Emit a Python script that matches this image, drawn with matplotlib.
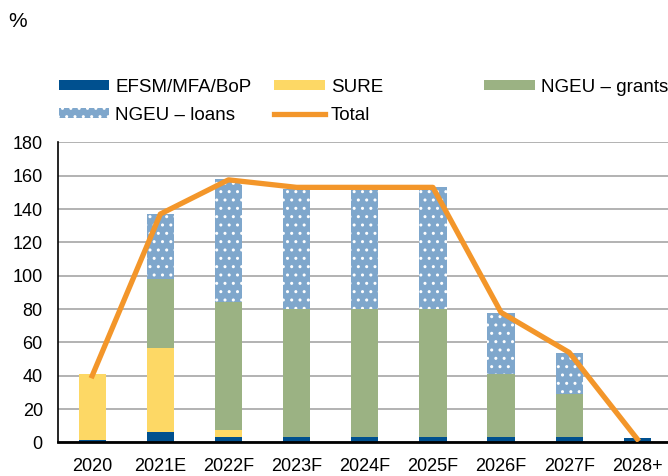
import numpy as np
import matplotlib.pyplot as plt

plt.rcParams['font.family'] = ['Liberation Sans', 'DejaVu Sans']
plt.rcParams['font.size'] = 13
plt.rcParams['hatch.linewidth'] = 1.0

years = ['2020', '2021E', '2022F', '2023F', '2024F', '2025F', '2026F', '2027F', '2028+']
efsm = [1.2, 6.5, 3, 3, 3, 3, 3, 3, 2.7]
sure = [39.7, 50.3, 4.5, 0, 0, 0, 0, 0, 0]
grants = [0, 41.2, 77, 76.8, 76.8, 76.8, 38.3, 25.9, 0]
loans = [0, 39, 73.4, 72, 71.6, 73.2, 36.5, 24.9, 0]
total = [40, 137, 157.5, 153, 153, 153, 78, 54, 2]

fig, ax = plt.subplots(figsize=(6.68, 4.76), dpi=100)
fig.subplots_adjust(left=0.087, right=1.0, top=0.701, bottom=0.0704)

x = np.arange(len(years))
w = 0.4
b1 = np.array(efsm)
b2 = b1 + np.array(sure)
b3 = b2 + np.array(grants)

h_efsm = ax.bar(x, efsm, w, color='#00508F', zorder=2)
h_sure = ax.bar(x, sure, w, bottom=b1, color='#FDD865', zorder=2)
h_grants = ax.bar(x, grants, w, bottom=b2, color='#9BB283', zorder=2)
h_loans = ax.bar(x, loans, w, bottom=b3, color='#7FA7CC', edgecolor='white',
                 linewidth=0, hatch='..', zorder=2)
h_total, = ax.plot(x, total, color='#F3962A', lw=3.8, zorder=3)

ax.set_xlim(-0.5, 8.45)
ax.set_ylim(0, 180)
ax.set_yticks(range(0, 181, 20))
ax.set_xticks(x)
ax.set_xticklabels(years)
ax.yaxis.grid(True, color='#A6A6A6', lw=1.2, zorder=0)
ax.tick_params(length=0, pad=11)
for s in ['top', 'right']:
    ax.spines[s].set_visible(False)
ax.spines['left'].set_linewidth(1.2)
ax.spines['bottom'].set_linewidth(2)

leg_kw = dict(loc='center left', frameon=False, fontsize=13.5, handlelength=2.7,
              handleheight=0.45, handletextpad=0.32, labelspacing=0.57,
              borderpad=0, borderaxespad=0)
leg1 = fig.legend([h_efsm, h_loans, h_sure, h_total],
                  ['EFSM/MFA/BoP', 'NGEU – loans', 'SURE', 'Total'], ncol=2,
                  columnspacing=1.2, bbox_to_anchor=(0.088, 0.787), **leg_kw)
leg2 = fig.legend([h_grants], ['NGEU – grants'],
                  bbox_to_anchor=(0.7245, 0.816), **leg_kw)

fig.text(0.012, 0.975, '%', fontsize=15, va='top')
fig.savefig('out.png')
